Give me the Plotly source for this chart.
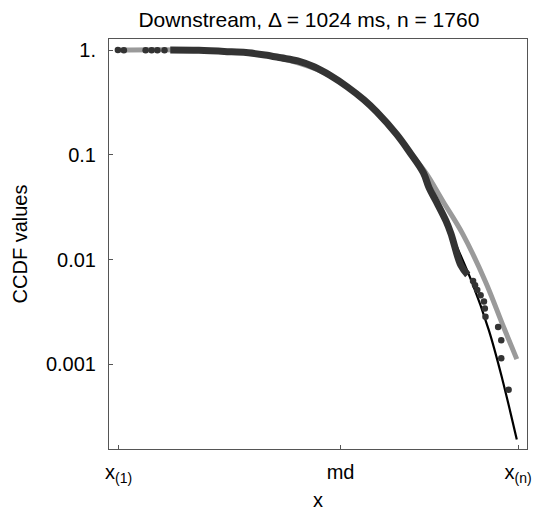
import plotly.graph_objects as go

# ---- data (x in units where x(1)=0, md=1, x(n)=1.8) ----
tick_vals = [0.0, 1.0, 1.8]
tick_text = ["x<sub>(1)</sub>", "md", "x<sub>(n)</sub>"]
ytick_vals = [1, 0.1, 0.01, 0.001]
ytick_text = ["1.", "0.1", "0.01", "0.001"]

# empirical CCDF: dense band
band_x = [0.233, 0.362, 0.509, 0.585, 0.660, 0.732, 0.807, 0.883, 0.954, 1.030,
          1.106, 1.163, 1.252, 1.310, 1.373, 1.399, 1.431, 1.475, 1.497,
          1.542, 1.573]
band_y = [1.0, 0.994, 0.962, 0.942, 0.899, 0.844, 0.788, 0.689, 0.572, 0.447,
          0.3345, 0.257, 0.1576, 0.107, 0.0675, 0.0483, 0.0359, 0.0234, 0.0178,
          0.00881, 0.00713]

# empirical CCDF: isolated points
dot_x = [-0.003, 0.024, 0.122, 0.149, 0.175, 0.207,
         1.597, 1.606, 1.616, 1.631, 1.646, 1.650, 1.653, 1.710, 1.724, 1.724, 1.757]
dot_y = [1.0, 0.999, 0.999, 0.998, 0.998, 0.997,
         0.00625, 0.00568, 0.00511, 0.00455, 0.00398, 0.00341, 0.00284, 0.00227,
         0.0017, 0.00114, 0.00057]

# fitted model 1 (gray)
gray_x = [0.0, 0.362, 0.660, 0.954, 1.163, 1.252, 1.310, 1.386, 1.462, 1.549, 1.653, 1.733, 1.794]
gray_y = [1.0, 0.994, 0.899, 0.572, 0.257, 0.1576, 0.107, 0.0665, 0.0359, 0.0178, 0.00615,
          0.00231, 0.00112]

# fitted model 2 (black)
black_x = [0.0, 0.362, 0.660, 0.954, 1.163, 1.252, 1.310, 1.373, 1.431, 1.497, 1.591, 1.668,
           1.728, 1.794]
black_y = [1.0, 0.994, 0.899, 0.572, 0.257, 0.1576, 0.107, 0.0675, 0.0359, 0.0178, 0.00615,
           0.00212, 0.000733, 0.000191]

FONT = "Liberation Sans, Arial, sans-serif"
fig = go.Figure()
fig.add_trace(go.Scatter(x=black_x, y=black_y, mode="lines",
                         line=dict(color="#000000", width=2.2), line_shape="spline"))
fig.add_trace(go.Scatter(x=gray_x, y=gray_y, mode="lines",
                         line=dict(color="#9a9a9a", width=5), line_shape="spline"))
fig.add_trace(go.Scatter(x=band_x, y=band_y, mode="lines",
                         line=dict(color="#333333", width=7), line_shape="spline"))
fig.add_trace(go.Scatter(x=dot_x, y=dot_y, mode="markers",
                         marker=dict(color="#333333", size=6.5)))

axis_common = dict(showgrid=False, zeroline=False, showline=True, mirror=True,
                   linecolor="#555555", linewidth=1, ticks="inside", ticklen=4,
                   tickcolor="#555555", tickfont=dict(family=FONT, size=20, color="#000"))

fig.update_layout(
    width=541, height=516,
    margin=dict(l=109, r=9, t=39, b=53),
    paper_bgcolor="white", plot_bgcolor="white",
    showlegend=False,
    font=dict(family=FONT, size=20, color="#000"),
    title=dict(text="Downstream, Δ = 1024 ms, n = 1760", x=0.571, xref="container",
               xanchor="center", y=1 - 20 / 516, yref="container", yanchor="middle",
               font=dict(family=FONT, size=21, color="#000")),
    xaxis=dict(range=[-0.043, 1.840], tickvals=tick_vals, ticktext=tick_text,
               title=dict(text="x", standoff=7, font=dict(family=FONT, size=20)),
               ticklabelstandoff=5, **axis_common),
    yaxis=dict(type="log", range=[-3.809, 0.106], tickvals=ytick_vals, ticktext=ytick_text,
               title=dict(text="CCDF values", standoff=12, font=dict(family=FONT, size=20)),
               ticklabelstandoff=8, **axis_common),
)
fig.write_html("out.html")
